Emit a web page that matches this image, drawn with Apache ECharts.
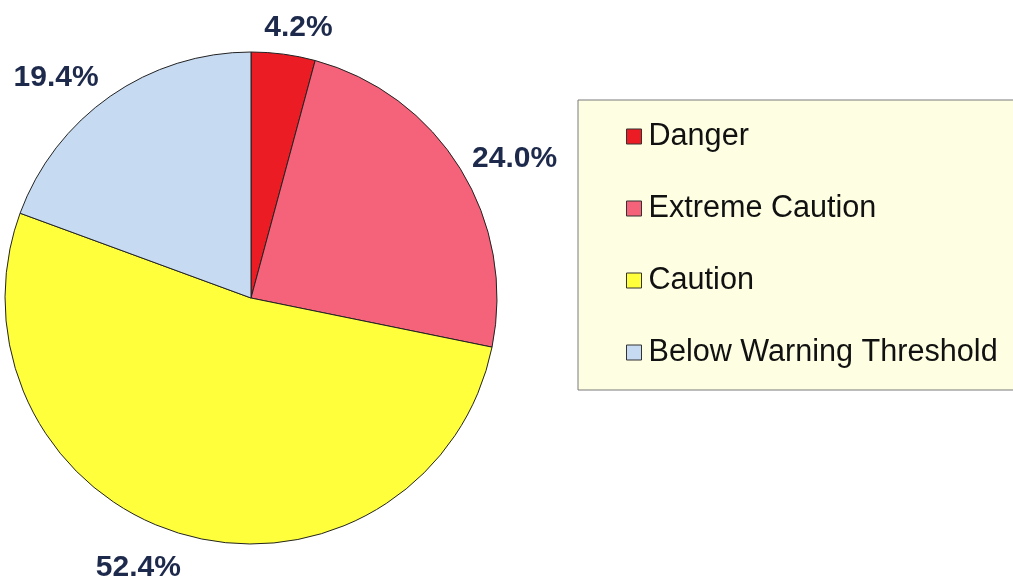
<!DOCTYPE html>
<html><head><meta charset="utf-8">
<script src="https://cdn.jsdelivr.net/npm/echarts@6/dist/echarts.min.js"></script>
<style>html,body{margin:0;padding:0;background:#fff}#c{width:1013px;height:581px}</style>
</head><body><div id="c"></div>
<script>
const categories = ['Danger', 'Extreme Caution', 'Caution', 'Below Warning Threshold'];
const values = [4.2, 24.0, 52.4, 19.4];
const colors = ['#EC1C24', '#F4637A', '#FFFF3C', '#C6DAF2'];
const labelNudge = [[-27, -5], [-12, 1], [8, 12], [6, -1]];

const chart = echarts.init(document.getElementById('c'));
chart.setOption({
  animation: false,
  legend: {
    orient: 'vertical',
    left: 578, top: 100,
    padding: [21, 60, 22, 48],
    itemGap: 41,
    itemWidth: 15, itemHeight: 15,
    icon: 'rect',
    backgroundColor: '#FEFEE2',
    borderColor: '#7a7a7a', borderWidth: 1,
    textStyle: { fontFamily: 'Liberation Sans, Arial, sans-serif', fontSize: 30.6, color: '#111', padding: [0, 0, 0, 2] },
    itemStyle: { borderColor: '#333', borderWidth: 1 },
    data: categories
  },
  series: [{
    type: 'pie',
    center: [251, 298],
    radius: 246,
    startAngle: 90,
    clockwise: true,
    avoidLabelOverlap: false,
    itemStyle: { borderColor: '#222', borderWidth: 1 },
    label: {
      show: true, position: 'outside',
      formatter: p => p.value.toFixed(1) + '%',
      fontFamily: 'Liberation Sans, Arial, sans-serif',
      fontSize: 30, fontWeight: 'bold', color: '#1E2A4C'
    },
    labelLine: { show: false, length: 22, length2: 0 },
    labelLayout: p => ({ dx: labelNudge[p.dataIndex][0], dy: labelNudge[p.dataIndex][1] }),
    emphasis: { disabled: true },
    data: categories.map((n, i) => ({ name: n, value: values[i], itemStyle: { color: colors[i] } }))
  }]
});
</script></body></html>
